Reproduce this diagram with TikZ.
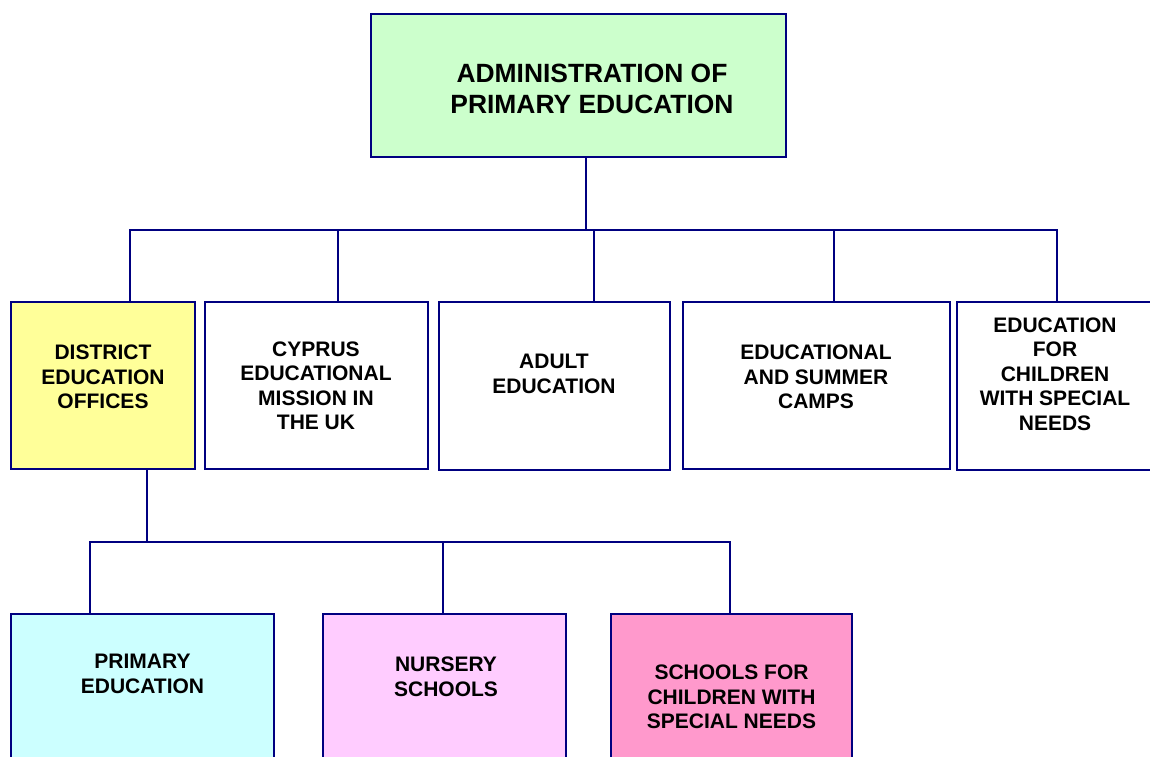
\documentclass[tikz,border=0pt]{standalone}
\usepackage{fontspec}
\setmainfont{Liberation Sans}
\definecolor{navyline}{HTML}{000080}
\definecolor{topgreen}{HTML}{CCFFCC}
\definecolor{distyellow}{HTML}{FFFF99}
\definecolor{primcyan}{HTML}{CCFFFF}
\definecolor{nurspink}{HTML}{FFCCFF}
\definecolor{specpink}{HTML}{FF99CC}
\tikzset{
  box/.style={draw=navyline, line width=1.6pt, anchor=north west, inner sep=0pt, outer sep=0pt},
  lbl/.style={align=center, font=\bfseries\fontsize{21}{24.5}\selectfont, inner sep=0pt},
  toplbl/.style={align=center, font=\bfseries\fontsize{26.4}{31}\selectfont, inner sep=0pt},
  conn/.style={draw=navyline, line width=1.6pt}
}
\begin{document}
\begin{tikzpicture}[x=1pt,y=-1pt]
\useasboundingbox (0,0) rectangle (1150,756);
\clip (0,0) rectangle (1150,756);
% boxes
\node[box, fill=topgreen, minimum width=415pt, minimum height=143pt] (top) at (371,14) {};
\node[box, fill=distyellow, minimum width=184pt, minimum height=167pt] (dist) at (11,302) {};
\node[box, fill=white, minimum width=223pt, minimum height=167pt] (cyp) at (205,302) {};
\node[box, fill=white, minimum width=231pt, minimum height=168pt] (adult) at (439,302) {};
\node[box, fill=white, minimum width=267pt, minimum height=167pt] (camps) at (683,302) {};
\node[box, fill=white, minimum width=220pt, minimum height=168pt] (spec) at (957,302) {};
\node[box, fill=primcyan, minimum width=263pt, minimum height=170pt] (prim) at (11,614) {};
\node[box, fill=nurspink, minimum width=243pt, minimum height=170pt] (nurs) at (323,614) {};
\node[box, fill=specpink, minimum width=241pt, minimum height=170pt] (sch) at (611,614) {};
% texts
\node[toplbl] (ttop) at (592,89) {ADMINISTRATION OF\\PRIMARY EDUCATION};
\node[lbl] (tdist) at (103,377) {DISTRICT\\EDUCATION\\OFFICES};
\node[lbl] (tcyp) at (316,386) {CYPRUS\\EDUCATIONAL\\MISSION IN\\THE UK};
\node[lbl] (tadult) at (554,374) {ADULT\\EDUCATION};
\node[lbl] (tcamps) at (816,377) {EDUCATIONAL\\AND SUMMER\\CAMPS};
\node[lbl] (tspec) at (1055,374) {EDUCATION\\FOR\\CHILDREN\\WITH SPECIAL\\NEEDS};
\node[lbl] (tprim) at (142.5,674) {PRIMARY\\EDUCATION};
\node[lbl] (tnurs) at (446,677) {NURSERY\\SCHOOLS};
\node[lbl] (tsch) at (731.5,697) {SCHOOLS FOR\\CHILDREN WITH\\SPECIAL NEEDS};
% connectors
\coordinate (busA) at (586,230);
\draw[conn] (top.south -| busA) -- (busA);
\draw[conn] (dist.north -| 130,0) |- (busA);
\draw[conn] (cyp.north -| 338,0) -- (338,230);
\draw[conn] (adult.north -| 594,0) -- (594,230);
\draw[conn] (camps.north -| 834,0) -- (834,230);
\draw[conn] (spec.north -| 1057,0) |- (busA);
\coordinate (busB) at (147,542);
\draw[conn] (dist.south -| busB) -- (busB);
\draw[conn] (prim.north -| 90,0) |- (busB);
\draw[conn] (nurs.north -| 443,0) -- (443,542);
\draw[conn] (sch.north -| 730,0) |- (busB);
\end{tikzpicture}
\end{document}
